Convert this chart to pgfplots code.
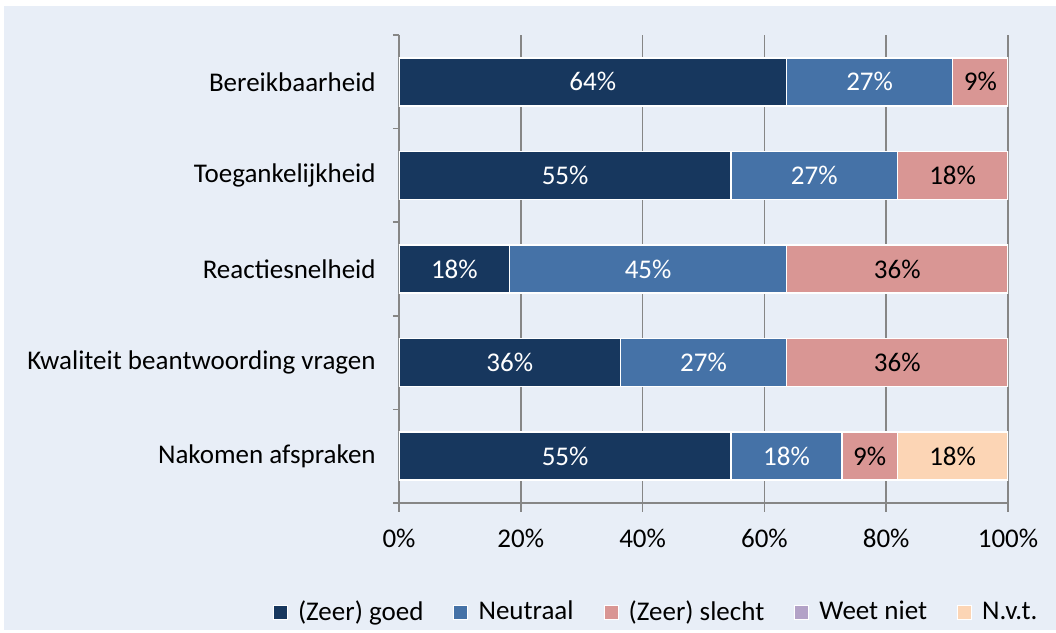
\documentclass[border=0pt]{standalone}
\usepackage{fontspec}
\setmainfont{Carlito}
\usepackage{pgfplots}
\pgfplotsset{compat=1.18}
\definecolor{bg}{HTML}{E8EEF7}
\definecolor{goed}{HTML}{17375E}
\definecolor{neutraal}{HTML}{4572A7}
\definecolor{slecht}{HTML}{D99694}
\definecolor{weetniet}{HTML}{B3A2C7}
\definecolor{nvt}{HTML}{FCD5B5}
\definecolor{axgray}{HTML}{868686}

\begin{document}
\fontsize{13.5}{16}\selectfont
\begin{tikzpicture}
\fill[bg] (0,0) rectangle (528pt,315pt);
\fill[white] (0,312pt) rectangle (528pt,315pt);
\fill[white] (0,0) rectangle (2pt,315pt);
\begin{axis}[
  at={(199.5pt,63.5pt)}, anchor=south west,
  scale only axis, width=304.5pt, height=234pt,
  xbar stacked, bar width=24pt,
  xmin=0, xmax=100, ymin=-0.5, ymax=4.5,
  xtick={0,20,...,100},
  xticklabel={\pgfmathprintnumber{\tick}\%},
  ytick={0,...,4},
  yticklabels={Nakomen afspraken, Kwaliteit beantwoording vragen, Reactiesnelheid, Toegankelijkheid, Bereikbaarheid},
  minor ytick={-0.5,0.5,...,4.5},
  major y tick style={draw=none},
  xmajorgrids=true, ymajorgrids=false,
  tick align=outside, major tick length=4.5pt, minor tick length=3pt,
  axis x line*=bottom, axis y line*=left,
  axis line style={axgray, line width=0.75pt},
  tick style={axgray, line width=0.75pt},
  grid style={axgray, line width=0.75pt},
  /pgf/number format/assume math mode=true,
  ticklabel style={font=\fontsize{13.5}{16}\selectfont, black},
  xticklabel style={yshift=-4pt},
  yticklabel style={xshift=-2.5pt},
  every axis plot/.append style={draw=white, line width=0.75pt},
  nodes near coords={\pgfmathprintnumber[fixed,precision=0]{\pgfplotspointmeta}\%},
  every node near coord/.append style={anchor=center, font=\fontsize{13.5}{16}\selectfont},
  legend style={draw=none, fill=none, at={(0.424,-0.234)}, anchor=center,
    font=\fontsize{13.5}{16}\selectfont,
    /tikz/every even column/.append style={column sep=13pt}},
  legend columns=-1,
  legend image code/.code={\draw[#1, line width=0.4pt] (0pt,-3.5pt) rectangle (7pt,3.5pt); \path (10pt,0pt);},
]
\addplot[fill=goed, every node near coord/.append style={text=white}] coordinates
  {(54.55,0) (36.36,1) (18.18,2) (54.55,3) (63.64,4)};
\addlegendentry{(Zeer) goed}
\addplot[fill=neutraal, every node near coord/.append style={text=white}] coordinates
  {(18.18,0) (27.27,1) (45.45,2) (27.27,3) (27.27,4)};
\addlegendentry{Neutraal}
\addplot[fill=slecht, every node near coord/.append style={text=black}] coordinates
  {(9.09,0) (36.36,1) (36.36,2) (18.18,3) (9.09,4)};
\addlegendentry{(Zeer) slecht}
\addlegendimage{fill=weetniet, draw=white}
\addlegendentry{Weet niet}
\addplot[fill=nvt, every node near coord/.append style={text=black}] coordinates
  {(18.18,0)};
\addlegendentry{N.v.t.}
\end{axis}
\end{tikzpicture}
\end{document}
